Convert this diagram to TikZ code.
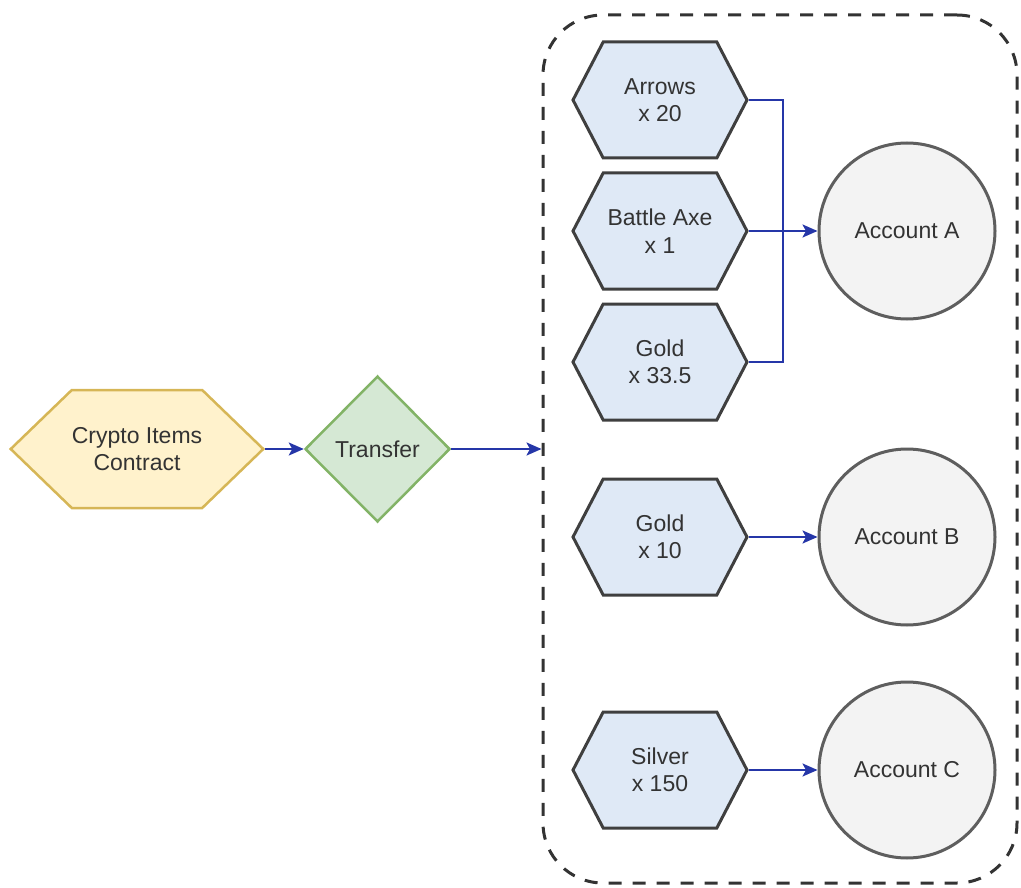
\documentclass[tikz,border=0pt]{standalone}
\usepackage{fontspec}
\setmainfont{Liberation Sans}
\usetikzlibrary{shapes.geometric,shapes.symbols,arrows.meta}
\definecolor{hexfill}{HTML}{DFE9F6}
\definecolor{hexline}{HTML}{3F3F3F}
\definecolor{yfill}{HTML}{FFF2CC}
\definecolor{yline}{HTML}{D6B656}
\definecolor{gfill}{HTML}{D5E8D4}
\definecolor{gline}{HTML}{82B366}
\definecolor{cfill}{HTML}{F3F3F3}
\definecolor{cline}{HTML}{5E5E5E}
\definecolor{conncol}{HTML}{2536A8}
\definecolor{txt}{HTML}{333333}
\tikzset{
  every node/.style={font=\fontsize{23pt}{27.5pt}\selectfont, text=txt, align=center},
  itemhex/.style={signal, signal to=east and west, signal pointer angle=125,
    minimum width=174pt, minimum height=116pt, inner sep=0pt,
    draw=hexline, fill=hexfill, line width=3pt},
  contracthex/.style={signal, signal to=east and west, signal pointer angle=88,
    minimum width=247pt, minimum height=118pt, inner sep=0pt,
    draw=yline, fill=yfill, line width=2.5pt},
  transferbox/.style={diamond, minimum width=145pt, minimum height=146pt, inner sep=0pt,
    draw=gline, fill=gfill, line width=2.5pt},
  account/.style={circle, minimum size=176pt, inner sep=0pt,
    draw=cline, fill=cfill, line width=3pt},
  groupbox/.style={draw=txt, line width=3pt, dash pattern=on 13pt off 11pt,
    rounded corners=60pt, minimum width=474pt, minimum height=868pt, inner sep=0pt},
  conn/.style={draw=conncol, line width=2.3pt, -{Stealth[length=15pt,width=13pt,inset=3.5pt]}},
  plainline/.style={draw=conncol, line width=2.3pt},
}
\begin{document}
\begin{tikzpicture}[x=1pt,y=-1pt]
\useasboundingbox (0,0) rectangle (1021,888);
\node[groupbox] (grp) at (780,449) {};
\node[contracthex] (contract) at (137,449) {Crypto Items\\Contract};
\node[transferbox] (transfer) at (377.5,449) {Transfer};
\node[itemhex] (arrows) at (660,100) {Arrows\\x 20};
\node[itemhex] (axe) at (660,231) {Battle Axe\\x 1};
\node[itemhex] (gold1) at (660,362) {Gold\\x 33.5};
\node[itemhex] (gold2) at (660,537) {Gold\\x 10};
\node[itemhex] (silver) at (660,770) {Silver\\x 150};
\node[account] (accA) at (907,231) {Account A};
\node[account] (accB) at (907,537) {Account B};
\node[account] (accC) at (907,770) {Account C};
\coordinate (J) at (783,231);
\draw[conn] (contract.east) -- (transfer.west);
\draw[conn] (transfer.east) -- (grp.west);
\draw[plainline] (arrows.east) -| (J);
\draw[plainline] (gold1.east) -| (J);
\draw[conn] (axe.east) -- (accA.west);
\draw[conn] (gold2.east) -- (accB.west);
\draw[conn] (silver.east) -- (accC.west);
\end{tikzpicture}
\end{document}
